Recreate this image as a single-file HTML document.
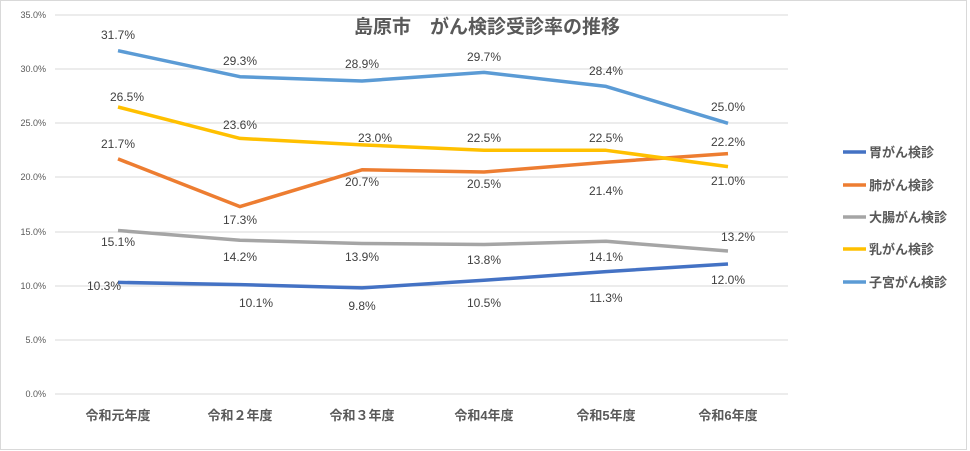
<!DOCTYPE html>
<html><head><meta charset="utf-8"><style>
body{margin:0;background:#fff}
svg{display:block;font-family:"Liberation Sans","Noto Sans CJK JP",sans-serif}
</style></head><body>
<svg width="970" height="451" viewBox="0 0 970 451">
<rect x="0.5" y="0.5" width="966" height="449" fill="#fff" stroke="#d9d9d9"/>
<g stroke="#d9d9d9" stroke-width="1">
<line x1="55" x2="788" y1="15" y2="15"/><line x1="55" x2="788" y1="69" y2="69"/>
<line x1="55" x2="788" y1="123" y2="123"/><line x1="55" x2="788" y1="177" y2="177"/>
<line x1="55" x2="788" y1="232" y2="232"/><line x1="55" x2="788" y1="286" y2="286"/>
<line x1="55" x2="788" y1="340" y2="340"/><line x1="55" x2="788" y1="394" y2="394"/>
</g>
<g font-size="9" fill="#595959" text-anchor="end">
<text x="46" y="18">35.0%</text><text x="46" y="72">30.0%</text><text x="46" y="126">25.0%</text>
<text x="46" y="180">20.0%</text><text x="46" y="235">15.0%</text><text x="46" y="289">10.0%</text>
<text x="46" y="343">5.0%</text><text x="46" y="397">0.0%</text>
</g>
<text x="487" y="33" font-size="19" font-weight="bold" fill="#595959" text-anchor="middle">島原市　がん検診受診率の推移</text>
<g fill="none" stroke-width="3.5" stroke-linejoin="round">
<polyline stroke="#4472c4" points="118,282.4 240,284.6 362,287.9 484,280.3 606,271.6 728,264.0"/>
<polyline stroke="#ed7d31" points="118,158.9 240,206.6 362,169.8 484,172.0 606,162.2 728,153.6"/>
<polyline stroke="#a5a5a5" points="118,230.5 240,240.2 362,243.5 484,244.5 606,241.3 728,251.0"/>
<polyline stroke="#ffc000" points="118,107.0 240,138.4 362,144.9 484,150.3 606,150.3 728,166.6"/>
<polyline stroke="#5b9bd5" points="118,50.7 240,76.7 362,81.0 484,72.4 606,86.4 728,123.3"/>
</g>
<g font-size="12" fill="#404040" text-anchor="middle">
<text x="118" y="39">31.7%</text><text x="240" y="65">29.3%</text><text x="362" y="68">28.9%</text><text x="484" y="61">29.7%</text><text x="606" y="75">28.4%</text><text x="728" y="111">25.0%</text>
<text x="127" y="101">26.5%</text><text x="240" y="129">23.6%</text><text x="375" y="142">23.0%</text><text x="484" y="142">22.5%</text><text x="606" y="142">22.5%</text><text x="728" y="185">21.0%</text>
<text x="118" y="148">21.7%</text><text x="240" y="224">17.3%</text><text x="362" y="186">20.7%</text><text x="484" y="188">20.5%</text><text x="606" y="195">21.4%</text><text x="728" y="146">22.2%</text>
<text x="118" y="246">15.1%</text><text x="240" y="261">14.2%</text><text x="362" y="261">13.9%</text><text x="484" y="264">13.8%</text><text x="606" y="261">14.1%</text><text x="738" y="241">13.2%</text>
<text x="104" y="290">10.3%</text><text x="256" y="307">10.1%</text><text x="362" y="310">9.8%</text><text x="484" y="307">10.5%</text><text x="606" y="302">11.3%</text><text x="728" y="284">12.0%</text>
</g>
<g font-size="13" font-weight="bold" fill="#595959" text-anchor="middle">
<text x="118" y="420">令和元年度</text><text x="240" y="420">令和２年度</text><text x="362" y="420">令和３年度</text>
<text x="484" y="420">令和4年度</text><text x="606" y="420">令和5年度</text><text x="728" y="420">令和6年度</text>
</g>
<g stroke-width="3.5">
<line x1="843" x2="866" y1="152" y2="152" stroke="#4472c4"/>
<line x1="843" x2="866" y1="185" y2="185" stroke="#ed7d31"/>
<line x1="843" x2="866" y1="217" y2="217" stroke="#a5a5a5"/>
<line x1="843" x2="866" y1="249" y2="249" stroke="#ffc000"/>
<line x1="843" x2="866" y1="282" y2="282" stroke="#5b9bd5"/>
</g>
<g font-size="13" font-weight="bold" fill="#595959">
<text x="869" y="157">胃がん検診</text><text x="869" y="190">肺がん検診</text><text x="869" y="222">大腸がん検診</text>
<text x="869" y="254">乳がん検診</text><text x="869" y="287">子宮がん検診</text>
</g>
</svg>
</body></html>
